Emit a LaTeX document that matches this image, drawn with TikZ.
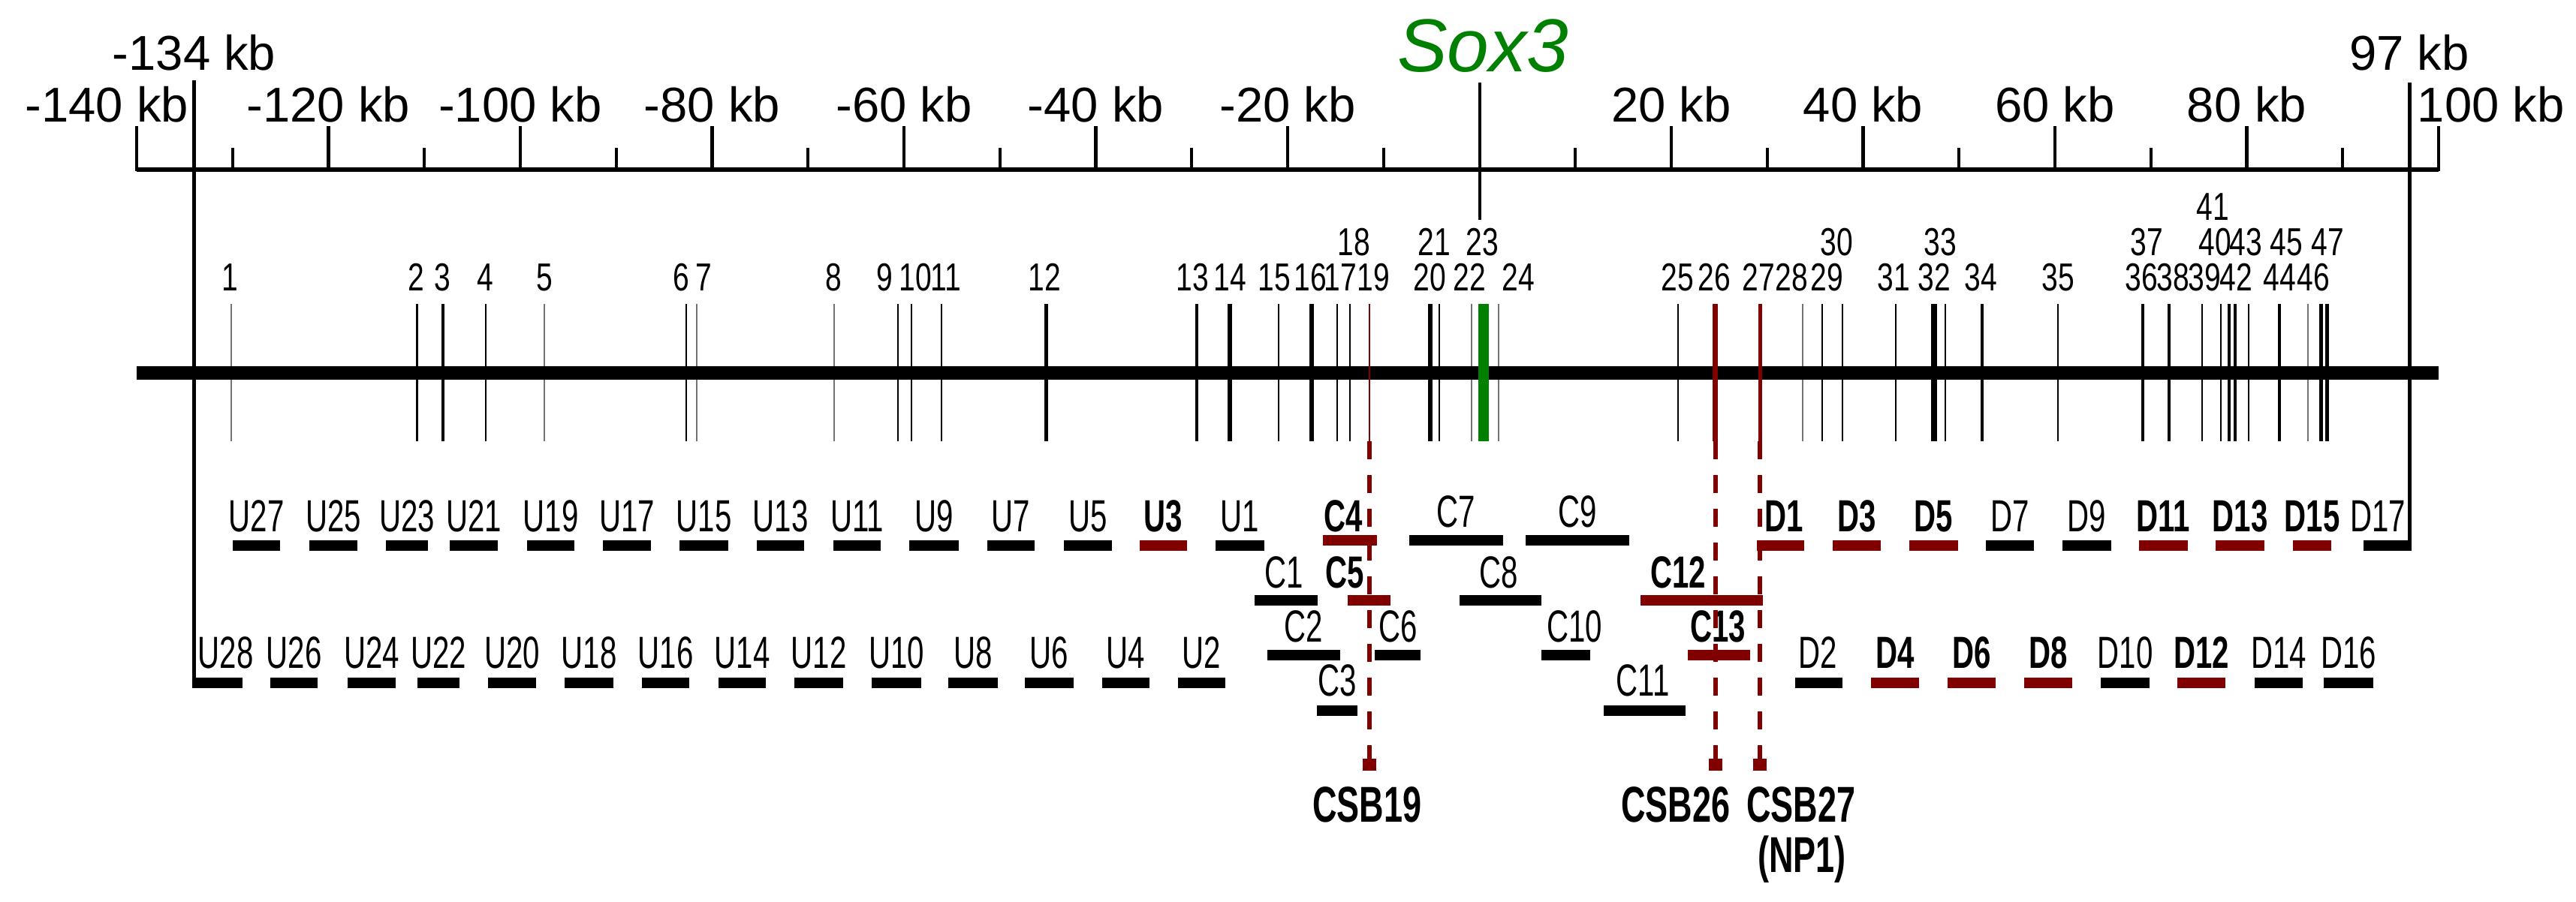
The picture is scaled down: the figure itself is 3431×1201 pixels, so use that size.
\documentclass[tikz,border=0pt]{standalone}
\usepackage{fontspec}
\setmainfont{Liberation Sans}
\newfontfamily\nf{Liberation Sans}[FakeStretch=0.67]
\newfontfamily\numf{Liberation Sans}[FakeStretch=0.75]
\definecolor{dred}{RGB}{128,0,0}
\definecolor{sgreen}{RGB}{0,128,0}
\definecolor{egray}{RGB}{115,115,115}
\begin{document}
\begin{tikzpicture}[x=0.25pt,y=-0.25pt,
  lab/.style={anchor=base,inner sep=0pt,font=\fontsize{15}{15}\selectfont\nf},
  csb/.style={anchor=base,inner sep=0pt,font=\fontsize{16.8}{16.8}\selectfont\nf\bfseries},
  num/.style={anchor=base,inner sep=0pt,font=\fontsize{13}{13}\selectfont\numf},
  kb/.style={anchor=base,inner sep=0pt,font=\fontsize{16.3}{16.3}\selectfont},
  tickmark/.style={line width=1.1pt},
  rule/.style={line width=1.25pt},
  seg/.style={line width=3.5pt},
  csbline/.style={color=dred,line width=1.6pt,dash pattern=on 6pt off 5.25pt},
]
\useasboundingbox (0,0) rectangle (3431,1201);

% ---- kb axis ----
\draw[line width=1.5pt] (182,226) -- (3248,226);
\foreach \k in {-140,-120,...,-20} \draw[tickmark] ({1970.5+12.775*\k},168) -- ({1970.5+12.775*\k},228);
\foreach \k in {20,40,...,100} \draw[tickmark] ({1970.5+12.775*\k},168) -- ({1970.5+12.775*\k},228);
\foreach \k in {-130,-110,...,90} \draw[tickmark] ({1970.5+12.775*\k},197) -- ({1970.5+12.775*\k},228);

\node[kb,anchor=base east] (lm140) at (252,162) {-140 kb};
\foreach \k in {-120,-100,-80,-60,-40,-20} \node[kb] (lm\k) at ({1970.5+12.775*\k},162) {\k\ kb};
\foreach \k in {20,40,60,80} \node[kb] (lp\k) at ({1970.5+12.775*\k},162) {\k\ kb};
\node[kb,anchor=base west] (lp100) at (3219,162) {100 kb};
\node[kb] (l134) at (258.6,93) {-134 kb};
\node[kb] (l97) at (3209,93) {97 kb};
\node[anchor=base,inner sep=0pt,font=\fontsize{25}{25}\selectfont\itshape,text=sgreen] (sox) at (1975,95) {Sox3};

% ---- long vertical rules ----
\draw[rule] (258.6,107) -- (258.6,917);
\draw[rule] (3209,110) -- (3209,733);
\draw[line width=1pt] (1970.5,110) -- (1970.5,293);

% ---- element lines (black / gray) ----
\foreach \x/\w/\c in {308/0.4/egray,555/0.75/black,590/1.1/black,647/0.5/black,725/0.4/egray,
  914/0.5/black,928/0.4/egray,1111/0.4/egray,1196/0.5/black,1214/0.4/black,1254/0.4/black,
  1393/1.25/black,1594/1/black,1638/1.5/black,1703/0.6/black,1747/1.5/black,1781/0.5/black,
  1798/0.5/black,1905/1.5/black,1917/0.5/black,1960/0.4/egray,1996/0.4/egray,2235/0.5/black,
  2401/0.4/egray,2427/0.4/black,2454/0.4/black,2525/0.5/black,2576/2/black,2591/0.6/black,
  2640/1/black,2741/0.5/black,2854/1/black,2889/1/black,2933/0.5/black,2958/0.5/black,
  2969/1/black,2977/1/black,2995/0.5/black,3036/1/black,3074/0.4/egray,3091/1.25/black,3099/1.25/black}
  \draw[line width=\w pt,color=\c] (\x,405) -- (\x,588);

% ---- chromosome ----
\draw[line width=4.6pt] (182,497) -- (3248,497);

% ---- coloured element lines ----
\draw[line width=0.5pt,color=dred] (1824,405) -- (1824,588);
\draw[line width=1.75pt,color=dred] (2284,405) -- (2284,588);
\draw[line width=1.25pt,color=dred] (2344,405) -- (2344,588);
\draw[line width=3.5pt,color=sgreen] (1976,405) -- (1976,588);

% ---- element numbers ----
\foreach \n/\x in {1/306,2/554,3/589,4/646,5/725,6/907,7/937,8/1110,9/1178,10/1219,11/1260,
  12/1391,13/1588,14/1638,15/1697,16/1745,17/1785,19/1829,20/1904,22/1957,24/2022,25/2234,
  26/2283,27/2342,28/2386,29/2433,31/2522,32/2576,34/2638,35/2741,36/2852,38/2894,39/2936,
  42/2978,44/3036,46/3081}
  \node[num] (e\n) at (\x,387) {\n};
\foreach \n/\x in {18/1803,21/1910,23/1974,30/2446,33/2584,37/2859,40/2950,43/2991,45/3045,47/3100}
  \node[num] (e\n) at (\x,340) {\n};
\node[num] (e41) at (2947,293) {41};

% ---- fragment bars, upper row ----
\foreach \n/\a/\b/\c/\f/\lx in {U27/310/373/black/\mdseries/341.5,U25/412/476/black/\mdseries/444,
  U23/514/570/black/\mdseries/542,U21/599/663/black/\mdseries/631,U19/702/765/black/\mdseries/733.5,
  U17/803/867/black/\mdseries/835,U15/905/970/black/\mdseries/937.5,U13/1008/1071/black/\mdseries/1039.5,
  U11/1110/1173/black/\mdseries/1141.5,U9/1211/1277/black/\mdseries/1244,U7/1315/1378/black/\mdseries/1346.5,
  U5/1417/1481/black/\mdseries/1449,U3/1518/1581/dred/\bfseries/1549.5,U1/1619/1684/black/\mdseries/1651.5,
  D1/2340/2403/dred/\bfseries/2376,D3/2441/2505/dred/\bfseries/2473,D5/2543/2608/dred/\bfseries/2575.5,
  D7/2645/2709/black/\mdseries/2677,D9/2747/2812/black/\mdseries/2779.5,D11/2849/2914/dred/\bfseries/2881.5,
  D13/2951/3016/dred/\bfseries/2983.5,D15/3054/3105/dred/\bfseries/3079.5,D17/3148/3212/black/\mdseries/3167}
{
  \draw[seg,color=\c] (\a,727) -- (\b,727);
  \node[lab] (\n) at (\lx,708) {\f\n};
}
\draw[seg,color=dred] (1762,720) -- (1834,720);
\node[lab] (C4) at (1789,708) {\bfseries C4};
\foreach \n/\a/\b in {C7/1877/2002,C9/2032/2170}
{
  \draw[seg] (\a,720) -- (\b,720);
  \node[lab] (\n) at ({(\a+\b)/2},702) {\n};
}

% ---- C rows ----
\foreach \n/\a/\b/\c/\f/\lx in {C1/1671/1755/black/\mdseries/1710,C5/1795/1852/dred/\bfseries/1791,
  C8/1944/2053/black/\mdseries/1996,C12/2185/2348/dred/\bfseries/2235}
{
  \draw[seg,color=\c] (\a,800) -- (\b,800);
  \node[lab] (\n) at (\lx,783) {\f\n};
}
\foreach \n/\a/\b/\c/\f/\lx in {C2/1688/1785/black/\mdseries/1736,C6/1831/1892/black/\mdseries/1862,
  C10/2053/2118/black/\mdseries/2097,C13/2248/2331/dred/\bfseries/2288}
{
  \draw[seg,color=\c] (\a,873) -- (\b,873);
  \node[lab] (\n) at (\lx,855) {\f\n};
}
\foreach \n/\a/\b/\lx in {C3/1754/1808/1781,C11/2136/2245/2188}
{
  \draw[seg] (\a,947) -- (\b,947);
  \node[lab] (\n) at (\lx,927) {\n};
}

% ---- fragment bars, lower row ----
\foreach \n/\a/\b/\c/\f/\lx in {U28/259/323/black/\mdseries/300.5,U26/360/423/black/\mdseries/391.5,
  U24/463/527/black/\mdseries/495,U22/556/612/black/\mdseries/584,U20/650/714/black/\mdseries/682,
  U18/752/817/black/\mdseries/784.5,U16/855/918/black/\mdseries/886.5,U14/957/1020/black/\mdseries/988.5,
  U12/1058/1123/black/\mdseries/1090.5,U10/1161/1227/black/\mdseries/1194,U8/1263/1329/black/\mdseries/1296,
  U6/1365/1430/black/\mdseries/1397.5,U4/1468/1531/black/\mdseries/1499.5,U2/1569/1632/black/\mdseries/1600.5,
  D2/2391/2454/black/\mdseries/2421,D4/2492/2556/dred/\bfseries/2524,D6/2594/2658/dred/\bfseries/2626,
  D8/2696/2760/dred/\bfseries/2728,D10/2798/2863/black/\mdseries/2830.5,D12/2900/2964/dred/\bfseries/2932,
  D14/3003/3067/black/\mdseries/3035,D16/3095/3161/black/\mdseries/3128}
{
  \draw[seg,color=\c] (\a,910) -- (\b,910);
  \node[lab] (\n) at (\lx,890) {\f\n};
}

% ---- CSB dashed markers ----
\foreach \x in {1824,2285,2344}
{
  \draw[csbline] (\x,588) -- (\x,1012);
  \fill[dred] ({\x-9},1011) rectangle ({\x+9},1027);
}
\node[csb] (csb19) at (1821,1095) {CSB19};
\node[csb] (csb26) at (2232,1095) {CSB26};
\node[csb] (csb27) at (2399,1095) {CSB27};
\node[csb] (np1) at (2400,1162) {(NP1)};
\end{tikzpicture}
\end{document}
